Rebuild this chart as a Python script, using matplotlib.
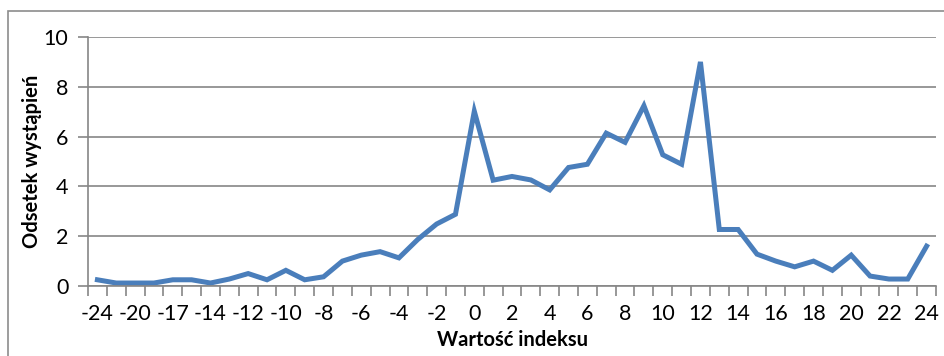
import matplotlib.pyplot as plt
from matplotlib.patches import Rectangle

# kategorie osi X (brakujące wartości indeksu pominięte)
indeksy = [-24, -22, -20, -18, -17, -15, -14, -13, -12, -11, -10, -9, -8, -7, -6, -5,
           -4, -3, -2, -1, 0, 1, 2, 3, 4, 5, 6, 7, 8, 9, 10, 11, 12, 13, 14, 15,
           16, 17, 18, 19, 20, 21, 22, 23, 24]
odsetek = [0.25, 0.12, 0.12, 0.12, 0.25, 0.25, 0.12, 0.28, 0.5, 0.25, 0.63, 0.25,
           0.37, 1.0, 1.24, 1.38, 1.13, 1.87, 2.49, 2.88, 7.02, 4.25, 4.4, 4.26,
           3.86, 4.76, 4.89, 6.14, 5.77, 7.24, 5.27, 4.89, 9.0, 2.27, 2.27, 1.28,
           1.0, 0.77, 1.0, 0.63, 1.24, 0.4, 0.28, 0.28, 1.6]
y_ticks = [0, 2, 4, 6, 8, 10]

plt.rcParams['font.family'] = ['Lato', 'DejaVu Sans']

fig = plt.figure(figsize=(9.45, 3.56), dpi=100)
ax = fig.add_axes([0.0931, 0.1966, 0.8974, 0.6994])

# ramka wykresu
fig.patches.append(Rectangle((8 / 945, -0.1), 1.2, 1 - 11 / 356 + 0.1,
                             transform=fig.transFigure, fill=False,
                             edgecolor='#8c8c8c', linewidth=1.2))

x = list(range(len(indeksy)))
ax.plot(x, odsetek, color='#4a7ebb', linewidth=3.6, solid_joinstyle='miter')

ax.set_xlim(-0.5, len(indeksy) - 0.5)
ax.set_ylim(0, 10)
ax.set_yticks(y_ticks)
ax.yaxis.grid(True, color='#868686', linewidth=1.2)
ax.set_axisbelow(True)

# podpisy co drugą kategorię, znaczniki między kategoriami
ax.set_xticks(x[::2])
ax.set_xticklabels([str(v) for v in indeksy[::2]])
ax.set_xticks([i - 0.5 for i in range(len(indeksy) + 1)], minor=True)
ax.tick_params(axis='x', which='major', length=0, pad=13, labelsize=15.5)
ax.tick_params(axis='x', which='minor', length=7, width=1.2, color='#868686')
ax.tick_params(axis='y', length=7, width=1.2, color='#868686', labelsize=15.5, pad=7)

for s in ['top', 'right']:
    ax.spines[s].set_visible(False)
for s in ['left', 'bottom']:
    ax.spines[s].set_color('#868686')
    ax.spines[s].set_linewidth(1.2)

ax.set_xlabel('Wartość indeksu', fontsize=14.5, fontweight='bold', labelpad=4)
ax.set_ylabel('Odsetek wystąpień', fontsize=14.5, fontweight='bold', labelpad=1)

fig.savefig('out.png', dpi=100)
